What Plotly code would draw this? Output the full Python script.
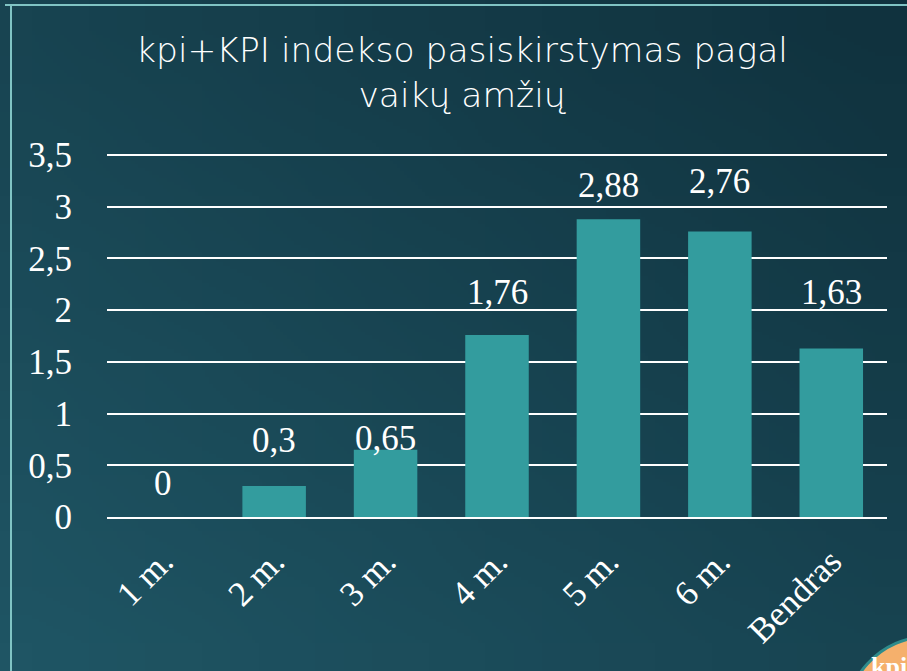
import base64
import struct
import zlib

import plotly.graph_objects as go

categories = ["1 m.", "2 m.", "3 m.", "4 m.", "5 m.", "6 m.", "Bendras"]
values = [0, 0.3, 0.65, 1.76, 2.88, 2.76, 1.63]
y_ticks = [0, 0.5, 1, 1.5, 2, 2.5, 3, 3.5]
title_lines = ["kpi+KPI indekso pasiskirstymas pagal", "vaikų amžių"]

# per-label vertical nudges (px), as placed in the original slide
label_lift = [12, 24, -10, 21, 12, 29, 34]


def fmt(v):
    return ("%g" % v).replace(".", ",")


BG = "#17434F"
BAR = "#339C9E"
SERIF = "Liberation Serif, Times New Roman, serif"

W, H = 907, 671
L, R, T, B = 107, 20, 150, 154
PW, PH = W - L - R, H - T - B
YTOP = 3.5 * PH / 362.0  # keep 3.5 at the same pixel row, so its gridline shows


def px(x):
    return (x - L) / PW


def py(y):
    return (H - B - y) / PH


def gradient_png(w, h, c_bl, c_tr):
    rows = b""
    for j in range(h):
        row = b"\x00"
        for i in range(w):
            t = (i / (w - 1) + (1 - j / (h - 1))) / 2
            row += bytes(int(round(a + (b - a) * t)) for a, b in zip(c_bl, c_tr))
        rows += row

    def chunk(tag, data):
        c = struct.pack(">I", len(data)) + tag + data
        return c + struct.pack(">I", zlib.crc32(tag + data) & 0xFFFFFFFF)

    png = b"\x89PNG\r\n\x1a\n"
    png += chunk(b"IHDR", struct.pack(">IIBBBBB", w, h, 8, 2, 0, 0, 0))
    png += chunk(b"IDAT", zlib.compress(rows))
    png += chunk(b"IEND", b"")
    return "data:image/png;base64," + base64.b64encode(png).decode()


bg_img = gradient_png(16, 12, (0x1F, 0x55, 0x64), (0x10, 0x32, 0x3E))

fig = go.Figure()
fig.add_trace(go.Bar(
    x=categories, y=values, marker=dict(color=BAR, line=dict(width=0)),
    hoverinfo="skip",
))

for c, v, lift in zip(categories, values, label_lift):
    fig.add_annotation(x=c, y=v, text=fmt(v), showarrow=False,
                       yanchor="bottom", yshift=lift,
                       font=dict(family=SERIF, size=35, color="white"))

fig.add_annotation(xref="paper", yref="paper", x=px(462), y=py(28),
                   xanchor="center", yanchor="top",
                   text="<br>".join(title_lines), showarrow=False,
                   font=dict(family="DejaVu Sans, sans-serif", size=34.5,
                             color="white", weight=200))

fig.add_layout_image(source=bg_img, xref="paper", yref="paper",
                     x=px(0), y=py(0), sizex=W / PW, sizey=H / PH,
                     xanchor="left", yanchor="top", sizing="stretch",
                     layer="below")

fig.update_layout(
    width=W, height=H,
    paper_bgcolor=BG, plot_bgcolor="rgba(0,0,0,0)",
    margin=dict(l=L, r=R, t=T, b=B),
    bargap=0.43, showlegend=False,
)
fig.update_yaxes(range=[0, YTOP], tickvals=y_ticks,
                 ticktext=[fmt(t) for t in y_ticks],
                 showgrid=True, gridcolor="white", gridwidth=2,
                 zeroline=False, showline=False, ticks="",
                 ticklabelstandoff=34,
                 tickfont=dict(family=SERIF, size=35, color="white"))
fig.update_xaxes(tickangle=-45, showline=True, linecolor="white", linewidth=2,
                 ticks="", ticklabelstandoff=8,
                 tickfont=dict(family=SERIF, size=35, color="white"))

# frame lines
FR = "#80C4C4"
fig.add_shape(type="line", xref="paper", yref="paper", x0=px(5), x1=px(910),
              y0=py(5), y1=py(5), line=dict(color=FR, width=2))
fig.add_shape(type="line", xref="paper", yref="paper", x0=px(11), x1=px(11),
              y0=py(5), y1=py(675), line=dict(color=FR, width=2))
# orange corner badge
fig.add_shape(type="circle", xref="paper", yref="paper",
              x0=px(843), x1=px(1010), y0=py(637), y1=py(820),
              fillcolor="#F5B06C", line=dict(color="#2E8C8C", width=3),
              layer="above")
fig.add_annotation(xref="paper", yref="paper", x=px(869), y=py(650),
                   xanchor="left", yanchor="top", text="<b>kpi</b>",
                   showarrow=False,
                   font=dict(family=SERIF, size=26, color="white"))

fig.write_html("out.html", config={"displayModeBar": False},
               post_script="document.body.style.margin='0';"
                           "document.body.style.overflow='hidden';")
